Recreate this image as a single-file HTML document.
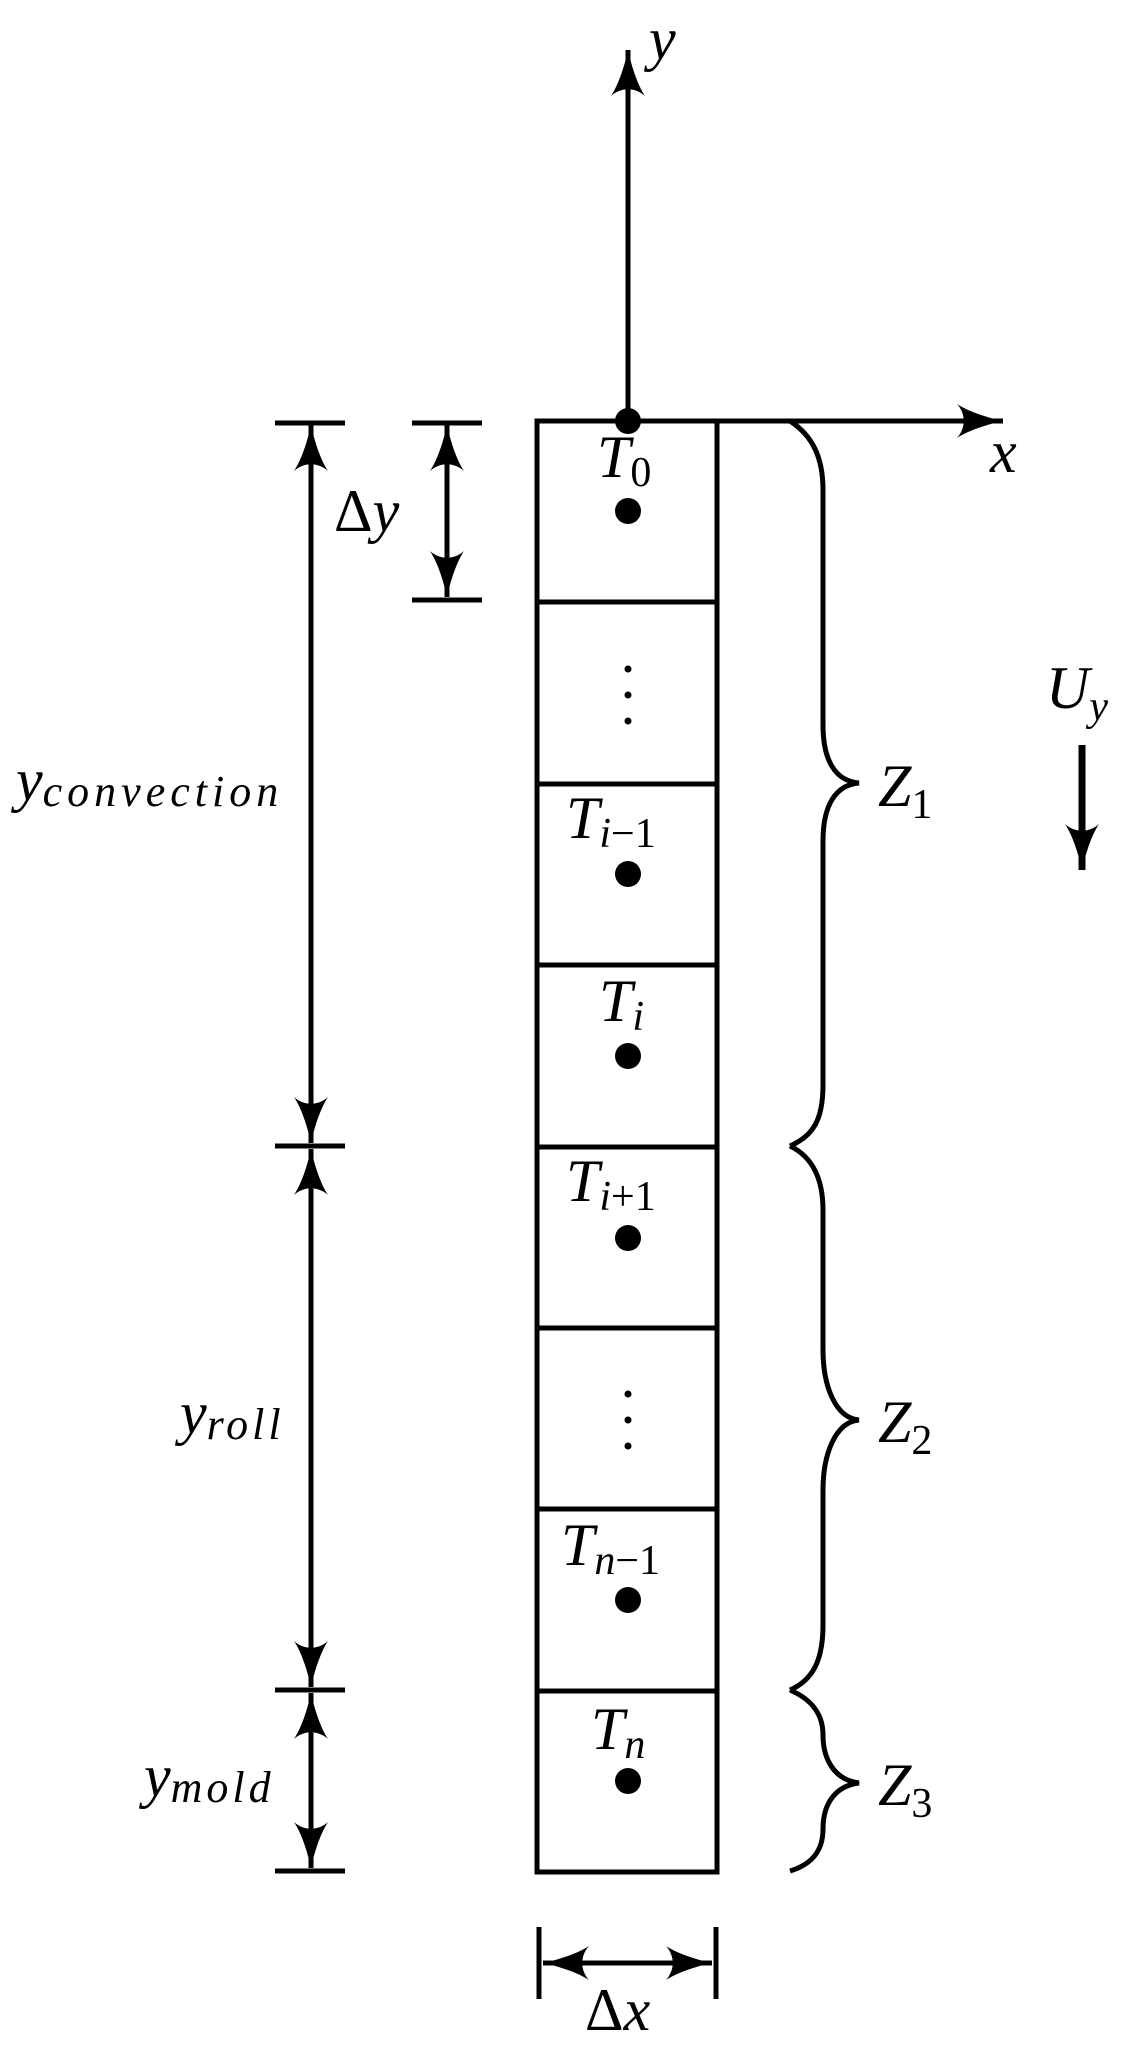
<!DOCTYPE html>
<html><head><meta charset="utf-8"><style>
html,body{margin:0;padding:0;background:#fff;}
svg{display:block;}
text{font-family:"Liberation Serif",serif;font-style:italic;fill:#000;}
</style></head><body>
<svg width="1134" height="2055" viewBox="0 0 1134 2055" xmlns="http://www.w3.org/2000/svg">
<defs>
<marker id="ah" markerUnits="userSpaceOnUse" viewBox="-48 -18 50 36" refX="0" refY="0" markerWidth="50" markerHeight="36" orient="auto-start-reverse">
<path d="M0,0 C-14,-3 -34,-9 -46,-17 C-37,-7 -37,7 -46,17 C-34,9 -14,3 0,0 Z" fill="#000"/>
</marker>
</defs>
<g stroke="#000" stroke-width="5" fill="none">
<rect x="537" y="421" width="180" height="1451"/>
<line x1="537" y1="602" x2="717" y2="602"/>
<line x1="537" y1="784" x2="717" y2="784"/>
<line x1="537" y1="965" x2="717" y2="965"/>
<line x1="537" y1="1147" x2="717" y2="1147"/>
<line x1="537" y1="1328" x2="717" y2="1328"/>
<line x1="537" y1="1509" x2="717" y2="1509"/>
<line x1="537" y1="1691" x2="717" y2="1691"/>
<line x1="628" y1="421" x2="628" y2="50" marker-end="url(#ah)"/>
<line x1="628" y1="421" x2="1003" y2="421" marker-end="url(#ah)"/>
<line x1="275" y1="423" x2="345" y2="423"/>
<line x1="275" y1="1146" x2="345" y2="1146"/>
<line x1="275" y1="1690" x2="345" y2="1690"/>
<line x1="275" y1="1871" x2="345" y2="1871"/>
<line x1="311" y1="425" x2="311" y2="1143" marker-start="url(#ah)" marker-end="url(#ah)"/>
<line x1="311" y1="1149" x2="311" y2="1687" marker-start="url(#ah)" marker-end="url(#ah)"/>
<line x1="311" y1="1693" x2="311" y2="1868" marker-start="url(#ah)" marker-end="url(#ah)"/>
<line x1="412" y1="423" x2="482" y2="423"/>
<line x1="412" y1="600" x2="482" y2="600"/>
<line x1="447" y1="425" x2="447" y2="597" marker-start="url(#ah)" marker-end="url(#ah)"/>
<line x1="539" y1="1927" x2="539" y2="1999"/>
<line x1="716" y1="1927" x2="716" y2="1999"/>
<line x1="543" y1="1963" x2="712" y2="1963" marker-start="url(#ah)" marker-end="url(#ah)"/>
<line x1="1082" y1="745" x2="1082" y2="870" stroke-width="7" marker-end="url(#ah)"/>
<path d="M790,421 C813,436 823,458 823,490 L823,725 C823,760 835,781 859,783 C835,785 823,806 823,841 L823,1085 C823,1120 813,1136 790,1146"/>
<path d="M790,1146 C813,1157 823,1180 823,1210 L823,1350 C823,1385 835,1418 859,1420 C835,1422 823,1455 823,1490 L823,1625 C823,1660 813,1680 790,1690"/>
<path d="M790,1690 C813,1700 823,1715 823,1735 C823,1760 835,1780 859,1783 C835,1786 823,1804 823,1829 C823,1850 813,1864 790,1871"/>
</g>
<g fill="#000">
<circle cx="628" cy="421" r="13"/>
<circle cx="628" cy="511" r="13"/>
<circle cx="628" cy="874" r="13"/>
<circle cx="628" cy="1056" r="13"/>
<circle cx="628" cy="1238" r="13"/>
<circle cx="628" cy="1600" r="13"/>
<circle cx="628" cy="1781" r="13"/>
<circle cx="628" cy="669" r="3.5"/><circle cx="628" cy="695" r="3.5"/><circle cx="628" cy="721" r="3.5"/>
<circle cx="628" cy="1394" r="3.5"/><circle cx="628" cy="1420" r="3.5"/><circle cx="628" cy="1446" r="3.5"/>
</g>
<g font-size="60">
<text x="649" y="59">y</text>
<text x="990" y="472">x</text>
<text x="334" y="531"><tspan font-style="normal">Δ</tspan>y</text>
<text x="16" y="800">y<tspan font-size="44" letter-spacing="5" dy="6">convection</tspan></text>
<text x="180" y="1433">y<tspan font-size="44" letter-spacing="4" dy="6">roll</tspan></text>
<text x="144" y="1796">y<tspan font-size="44" letter-spacing="4" dy="6">mold</tspan></text>
<text x="597" y="477">T<tspan font-size="42" font-style="normal" dy="9">0</tspan></text>
<text x="566" y="838">T<tspan font-size="42" dy="9">i</tspan><tspan font-size="42" font-style="normal">−1</tspan></text>
<text x="599" y="1021">T<tspan font-size="42" dy="9">i</tspan></text>
<text x="566" y="1201">T<tspan font-size="42" dy="9">i</tspan><tspan font-size="42" font-style="normal">+1</tspan></text>
<text x="561" y="1565">T<tspan font-size="42" dy="9">n</tspan><tspan font-size="42" font-style="normal">−1</tspan></text>
<text x="591" y="1749">T<tspan font-size="42" dy="9">n</tspan></text>
<text x="878" y="806">Z<tspan font-size="42" font-style="normal" dy="12">1</tspan></text>
<text x="878" y="1442">Z<tspan font-size="42" font-style="normal" dy="12">2</tspan></text>
<text x="878" y="1805">Z<tspan font-size="42" font-style="normal" dy="12">3</tspan></text>
<text x="1046" y="708">U<tspan font-size="42" dy="12">y</tspan></text>
<text x="585" y="2030"><tspan font-style="normal">Δ</tspan>x</text>
</g>
</svg>
</body></html>
